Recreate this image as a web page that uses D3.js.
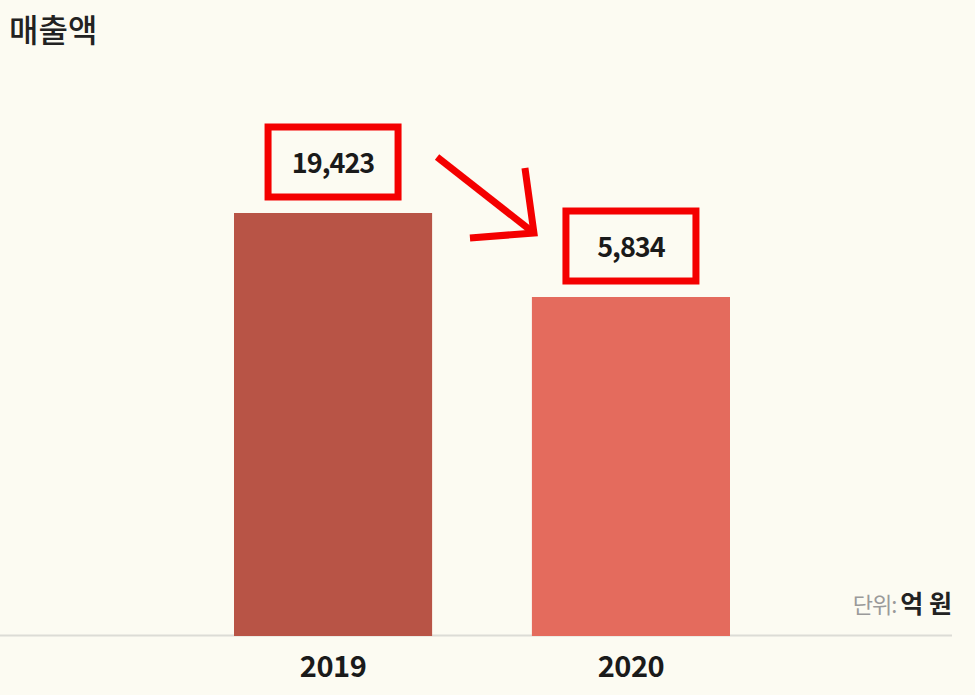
<!DOCTYPE html>
<html><head><meta charset="utf-8">
<script src="https://cdn.jsdelivr.net/npm/d3@7"></script>
<style>
html,body{margin:0;padding:0;background:#fcfbf2;}
svg{display:block;}
text{font-family:"Noto Sans CJK KR","Noto Sans",sans-serif;}
</style></head>
<body>
<script>
const categories = ["2019", "2020"];
const values = [19423, 5834];
const valueLabels = ["19,423", "5,834"];
const title = "매출액";
const unitLabel = "단위:";
const unitValue = "억 원";
const colors = ["#b85446", "#e46b5d"];

const W = 975, H = 695;
const svg = d3.select("body").append("svg").attr("width", W).attr("height", H);

const x = d3.scaleBand().domain(categories).range([234, 730]).paddingInner(0.335).paddingOuter(0);
const yMin = -49000;
const y = d3.scaleLinear().domain([yMin, 19423]).range([636, 213]);

// baseline
svg.append("line").attr("x1", 0).attr("x2", 952).attr("y1", 635.5).attr("y2", 635.5)
  .attr("stroke", "#dcdcd6").attr("stroke-width", 2);

// bars
svg.selectAll("rect.bar").data(values).join("rect").attr("class", "bar")
  .attr("x", (d, i) => x(categories[i]))
  .attr("width", x.bandwidth())
  .attr("y", d => y(d))
  .attr("height", d => y(yMin) - y(d))
  .attr("fill", (d, i) => colors[i]);

// x axis labels
svg.selectAll("text.cat").data(categories).join("text").attr("class", "cat")
  .attr("x", d => x(d) + x.bandwidth() / 2)
  .attr("y", 677)
  .attr("text-anchor", "middle")
  .attr("font-size", 29).attr("font-weight", 700).attr("fill", "#1a1a1a")
  .attr("letter-spacing", -0.5)
  .text(d => d);

// value boxes
const boxW = 130, boxH = 70;
values.forEach((v, i) => {
  const cx = x(categories[i]) + x.bandwidth() / 2;
  const top = y(v);
  const g = svg.append("g");
  g.append("rect")
    .attr("x", cx - boxW / 2).attr("y", top - 86)
    .attr("width", boxW).attr("height", boxH)
    .attr("fill", "none").attr("stroke", "#f40000").attr("stroke-width", 7);
  g.append("text")
    .attr("x", cx).attr("y", top - 40)
    .attr("text-anchor", "middle")
    .attr("font-size", 27).attr("font-weight", 700).attr("fill", "#1a1a1a")
    .attr("letter-spacing", -1)
    .text(valueLabels[i]);
});

// arrow between boxes
const x0 = x(categories[0]) + x.bandwidth() / 2;
const x1 = x(categories[1]) + x.bandwidth() / 2;
const ax1 = x0 + 104, ay1 = y(values[0]) - 56;
const ax2 = x1 - 97, ay2 = y(values[1]) - 64;
const arrow = svg.append("g").attr("stroke", "#f40000").attr("stroke-width", 7).attr("fill", "none")
  .attr("stroke-linecap", "butt");
arrow.append("line").attr("x1", ax1).attr("y1", ay1).attr("x2", ax2).attr("y2", ay2);
arrow.append("polyline")
  .attr("points", `${ax2 - 9},${ay2 - 65} ${ax2},${ay2} ${ax2 - 64},${ay2 + 5}`);

// title
svg.append("text").attr("x", 9).attr("y", 42)
  .attr("font-size", 32).attr("font-weight", 500).attr("fill", "#222")
  .text(title);

// unit
const unit = svg.append("text").attr("x", 952).attr("y", 613).attr("text-anchor", "end");
unit.append("tspan").attr("font-size", 22).attr("fill", "#9a9a9a").attr("letter-spacing", -1).text(unitLabel + " ");
unit.append("tspan").attr("font-size", 25).attr("font-weight", 700).attr("fill", "#222").text(unitValue);
</script>
</body></html>
